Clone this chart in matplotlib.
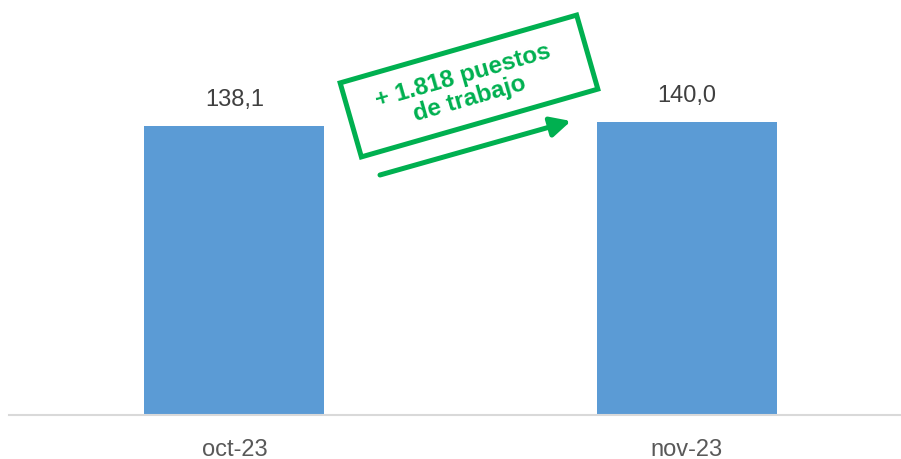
import matplotlib
matplotlib.use('agg')
import matplotlib.pyplot as plt
from matplotlib.patches import Rectangle
from matplotlib.transforms import IdentityTransform

categories = ['oct-23', 'nov-23']
values = [138.1, 140.0]
value_labels = ['138,1', '140,0']
note = '+ 1.818 puestos\nde trabajo'

BLUE = '#5B9BD5'
GREEN = '#00B050'
H = 459

plt.rcParams['font.family'] = ['Liberation Sans', 'DejaVu Sans']

fig = plt.figure(figsize=(9.01, 4.59), dpi=100)
ax = fig.add_axes([9 / 901, 44 / 459, 892 / 901, 415 / 459])

x = list(range(len(categories)))
ax.bar(x, values, width=0.398, color=BLUE)
for xi, v, lab in zip(x, values, value_labels):
    ax.text(xi, v + 7, lab, ha='center', va='bottom', fontsize=17,
            color='#404040')

ax.set_xlim(-0.498, 1.473)
ax.set_ylim(0, 198.3)
ax.set_xticks(x)
ax.set_xticklabels(categories, fontsize=17, color='#595959')
ax.tick_params(axis='x', length=0, pad=17)
ax.set_yticks([])
for s in ['top', 'right', 'left']:
    ax.spines[s].set_visible(False)
ax.spines['bottom'].set_color('#D9D9D9')
ax.spines['bottom'].set_linewidth(1.5)

# rotated box with the annotation (pixel coordinates)
cx, cy = 469, H - 86
w, h = 246, 77
box = Rectangle((cx - w / 2, cy - h / 2), w, h, angle=16,
                rotation_point='center', fill=False, ec=GREEN, lw=3.6,
                transform=IdentityTransform())
fig.patches.append(box)
fig.text(cx - 3, cy - 1, note, transform=IdentityTransform(), rotation=16,
         rotation_mode='anchor', ha='center', va='center', fontsize=17.5,
         fontweight='bold', color=GREEN, linespacing=1.05)

ax.annotate('', xy=(571, H - 121), xytext=(380, H - 175),
            xycoords='figure pixels', textcoords='figure pixels',
            arrowprops=dict(arrowstyle='-|>', color=GREEN, lw=3.6,
                            mutation_scale=30, shrinkA=0, shrinkB=0))

fig.savefig('out.png', dpi=100)
